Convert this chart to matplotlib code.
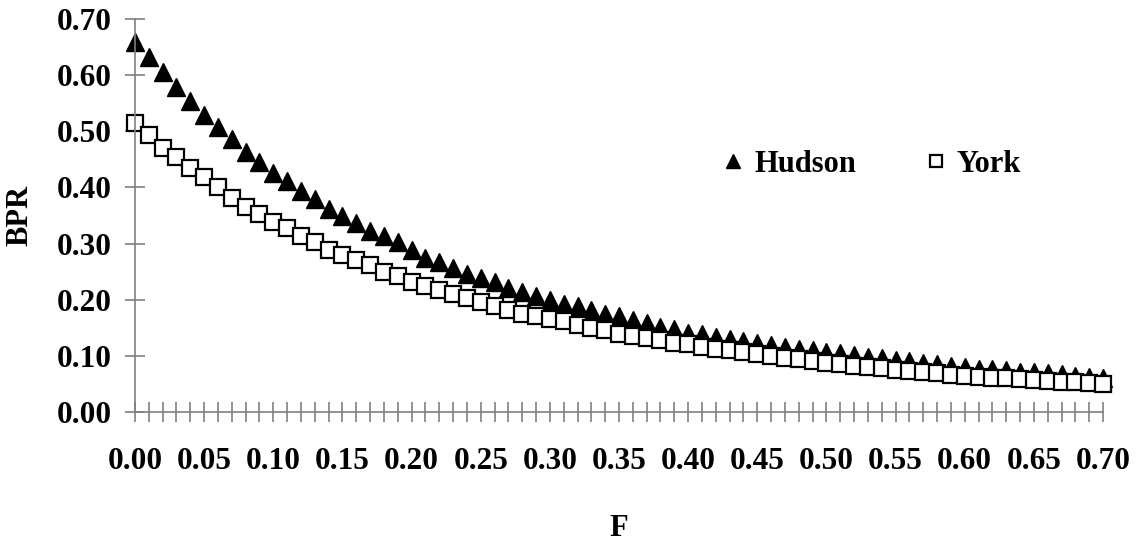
import numpy as np
import matplotlib
import matplotlib.pyplot as plt

matplotlib.use("agg")

# F from 0.00 to 0.70, step 0.01
f_values = np.round(np.arange(0, 71) * 0.01, 2)

hudson = [0.659, 0.632, 0.605, 0.579, 0.554, 0.529, 0.507, 0.487, 0.463, 0.445,
          0.425, 0.411, 0.393, 0.379, 0.362, 0.350, 0.336, 0.323, 0.313, 0.302,
          0.288, 0.275, 0.268, 0.257, 0.246, 0.239, 0.232, 0.221, 0.214, 0.207,
          0.200, 0.193, 0.188, 0.182, 0.175, 0.171, 0.164, 0.159, 0.152, 0.148,
          0.141, 0.139, 0.134, 0.130, 0.127, 0.123, 0.120, 0.116, 0.113, 0.110,
          0.107, 0.105, 0.102, 0.098, 0.096, 0.093, 0.090, 0.088, 0.086, 0.082,
          0.080, 0.077, 0.076, 0.074, 0.072, 0.071, 0.070, 0.068, 0.065, 0.063,
          0.061]

york = [0.514, 0.493, 0.471, 0.454, 0.434, 0.418, 0.400, 0.382, 0.366, 0.353,
        0.338, 0.327, 0.314, 0.302, 0.289, 0.279, 0.270, 0.261, 0.249, 0.243,
        0.231, 0.225, 0.218, 0.210, 0.203, 0.196, 0.189, 0.182, 0.175, 0.171,
        0.166, 0.162, 0.155, 0.150, 0.146, 0.139, 0.136, 0.132, 0.128, 0.123,
        0.121, 0.116, 0.113, 0.111, 0.106, 0.103, 0.099, 0.096, 0.094, 0.091,
        0.088, 0.086, 0.082, 0.080, 0.078, 0.075, 0.073, 0.071, 0.069, 0.066,
        0.064, 0.062, 0.061, 0.060, 0.058, 0.057, 0.055, 0.054, 0.053, 0.052,
        0.050]

y_ticks = [0.0, 0.1, 0.2, 0.3, 0.4, 0.5, 0.6, 0.7]
x_label_ticks = [0.0, 0.05, 0.10, 0.15, 0.20, 0.25, 0.30, 0.35,
                 0.40, 0.45, 0.50, 0.55, 0.60, 0.65, 0.70]

plt.rcParams['font.family'] = ['Liberation Serif', 'DejaVu Serif']
plt.rcParams['font.weight'] = 'bold'

fig = plt.figure(figsize=(11.38, 5.43), dpi=100)
ax = fig.add_axes([135 / 1138, 1 - 412 / 543, 968 / 1138, 393 / 543])

ax.plot(f_values, hudson, linestyle='none', marker='^', markersize=12.5,
        color='black', label='Hudson', clip_on=False)
ax.plot(f_values, york, linestyle='none', marker='s', markersize=11,
        markerfacecolor='white', markeredgecolor='black', markeredgewidth=1.6,
        label='York', clip_on=False)

ax.set_xlim(0, 0.70)
ax.set_ylim(0, 0.70)

for side in ['top', 'right']:
    ax.spines[side].set_visible(False)
for side in ['left', 'bottom']:
    ax.spines[side].set_color('#808080')
    ax.spines[side].set_linewidth(1.2)

ax.set_yticks(y_ticks)
ax.set_yticklabels(['%.2f' % v for v in y_ticks])
ax.set_xticks(f_values, minor=True)
ax.set_xticks(x_label_ticks)
ax.set_xticklabels(['%.2f' % v for v in x_label_ticks])

ax.tick_params(axis='both', which='both', direction='inout', length=14,
               width=1.2, color='#808080', labelsize=22.5)
ax.tick_params(axis='x', which='major', pad=18)
ax.tick_params(axis='y', which='major', pad=10)

ax.set_xlabel('F', fontsize=22, fontweight='bold')
ax.xaxis.set_label_coords(0.5, -0.26)
ax.set_ylabel('BPR', fontsize=22, fontweight='bold')
ax.yaxis.set_label_coords(-0.104, 0.5)

ax.legend(loc='center', bbox_to_anchor=(0.762, 0.63), ncol=2, frameon=False,
          fontsize=22, markerscale=0.75, handlelength=0.6, handletextpad=0.4,
          columnspacing=2.3)

fig.savefig('out.png', dpi=100)
